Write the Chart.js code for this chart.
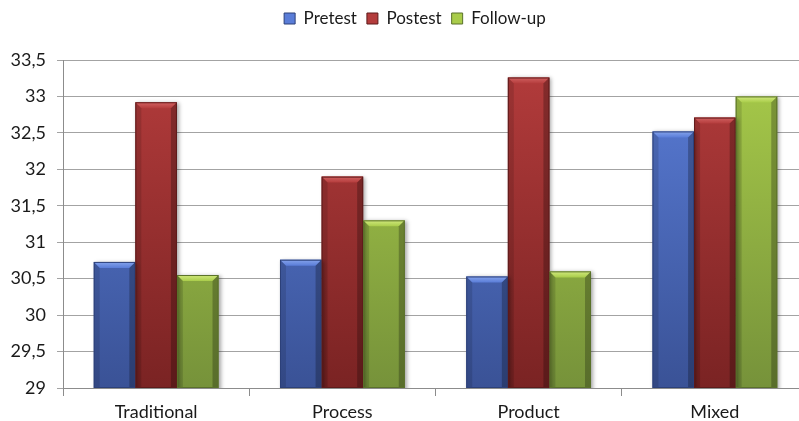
<!DOCTYPE html>
<html>
<head>
<meta charset="utf-8">
<script src="https://cdn.jsdelivr.net/npm/chart.js@4/dist/chart.umd.min.js"></script>
<style>
  html, body { margin: 0; padding: 0; background: #ffffff; overflow: hidden; }
  #wrap { width: 799px; height: 421px; overflow: hidden; }
  canvas { display: block; }
</style>
</head>
<body>
<div id="wrap"><canvas id="chart" width="812" height="421"></canvas></div>
<script>
// Group means per teaching approach
const categories = ['Traditional', 'Process', 'Product', 'Mixed'];
const seriesNames = ['Pretest', 'Postest', 'Follow-up'];
const pretest  = [30.73, 30.76, 30.53, 32.52];
const postest  = [32.92, 31.90, 33.26, 32.71];
const followUp = [30.55, 31.30, 30.60, 33.00];
const yTicks = [29, 29.5, 30, 30.5, 31, 31.5, 32, 32.5, 33, 33.5];

// Shading per series: [cap, body top, body bottom, edge]
const palettes = [
  ['#86a4ec', '#5a7dd8', '#3a5296', '#2c4079'],
  ['#d26262', '#b43c3c', '#7a2323', '#5e1a1a'],
  ['#d2ea7e', '#a9cc4a', '#76923a', '#5a712a']
];

const ctx = document.getElementById('chart').getContext('2d');

function bodyGradient(chart, i) {
  const area = chart.chartArea;
  if (!area) return palettes[i][1];
  const g = chart.ctx.createLinearGradient(0, area.top, 0, area.bottom);
  g.addColorStop(0, palettes[i][1]);
  g.addColorStop(1, palettes[i][2]);
  return g;
}

const seriesValues = [pretest, postest, followUp];

// Legend: fixed height, and nudged right a little
const legendSize = {
  id: 'legendSize',
  beforeInit(chart) {
    const fit = chart.legend.fit;
    chart.legend.fit = function () {
      fit.call(this);
      this.height = 60;
    };
  },
  afterLayout(chart) {
    chart.legend.left += 11;
    chart.legend.right += 11;
  }
};

// Soft drop shadow plus bevelled cap and edges on each bar
const bevel = {
  id: 'bevel',
  beforeDatasetsDraw(chart) {
    const c = chart.ctx;
    c.save();
    c.shadowColor = 'rgba(0,0,0,0.35)';
    c.shadowBlur = 4;
    c.shadowOffsetX = 2;
    c.shadowOffsetY = 1;
  },
  afterDatasetsDraw(chart) {
    const c = chart.ctx;
    c.restore();
    const area = chart.chartArea;
    c.save();
    c.beginPath();
    c.rect(area.left, area.top - 2, area.right - area.left, area.bottom - area.top + 2);
    c.clip();
    chart.data.datasets.forEach((ds, i) => {
      const meta = chart.getDatasetMeta(i);
      const p = palettes[i];
      meta.data.forEach(bar => {
        const w = bar.width;
        const l = bar.x - w / 2, r = bar.x + w / 2;
        const t = bar.y, b = Math.min(bar.base, area.bottom);
        const k = 6;
        // top cap
        const cg = c.createLinearGradient(0, t, 0, t + k);
        cg.addColorStop(0, p[0]);
        cg.addColorStop(1, p[1]);
        c.fillStyle = cg;
        c.beginPath();
        c.moveTo(l, t); c.lineTo(r, t); c.lineTo(r - k, t + k); c.lineTo(l + k, t + k);
        c.closePath(); c.fill();
        // left edge
        c.fillStyle = 'rgba(0,0,0,0.12)';
        c.beginPath();
        c.moveTo(l, t); c.lineTo(l + k, t + k); c.lineTo(l + k, b); c.lineTo(l, b);
        c.closePath(); c.fill();
        // right edge
        c.fillStyle = 'rgba(0,0,0,0.25)';
        c.beginPath();
        c.moveTo(r, t); c.lineTo(r - k, t + k); c.lineTo(r - k, b); c.lineTo(r, b);
        c.closePath(); c.fill();
        // outline
        c.strokeStyle = p[3];
        c.lineWidth = 1;
        c.strokeRect(l + 0.5, t + 0.5, w - 1, b - t - 1);
      });
    });
    c.restore();
  }
};

new Chart(ctx, {
  type: 'bar',
  data: {
    labels: categories,
    datasets: seriesNames.map((name, i) => ({
      label: name,
      data: seriesValues[i],
      backgroundColor: (context) => bodyGradient(context.chart, i),
      borderWidth: 0,
      barPercentage: 1.0,
      categoryPercentage: 0.67
    }))
  },
  options: {
    responsive: false,
    animation: false,
    layout: { padding: { left: 0, right: 4, top: 0, bottom: 0 } },
    plugins: {
      tooltip: { enabled: false },
      legend: {
        position: 'top',
        align: 'center',
        labels: {
          color: '#1a1a1a',
          font: { family: 'Lato', size: 17 },
          boxWidth: 11,
          boxHeight: 11,
          padding: 10,
          generateLabels(chart) {
            return chart.data.datasets.map((ds, i) => ({
              text: ds.label,
              fillStyle: palettes[i][1],
              strokeStyle: palettes[i][3],
              lineWidth: 1,
              datasetIndex: i,
              fontColor: '#1a1a1a'
            }));
          }
        }
      }
    },
    scales: {
      x: {
        offset: true,
        afterFit(scale) { scale.height = 33; },
        grid: {
          offset: true,
          drawOnChartArea: false,
          drawTicks: true,
          tickLength: 8,
          color: '#8c8c8c'
        },
        border: { display: true, color: '#8c8c8c', width: 1 },
        ticks: {
          color: '#1a1a1a',
          font: { family: 'Lato', size: 18 },
          padding: 5
        }
      },
      y: {
        min: 29,
        max: 33.5,
        afterFit(scale) { scale.width = 63; },
        afterBuildTicks(scale) {
          scale.ticks = yTicks.map(v => ({ value: v }));
        },
        grid: {
          color: '#a3a3a3',
          lineWidth: 1,
          drawTicks: true,
          tickLength: 6
        },
        border: { display: true, color: '#8c8c8c', width: 1 },
        ticks: {
          color: '#1a1a1a',
          font: { family: 'Lato', size: 18 },
          padding: 11,
          callback: (value) => String(value).replace('.', ',')
        }
      }
    }
  },
  plugins: [legendSize, bevel]
});
</script>
</body>
</html>
